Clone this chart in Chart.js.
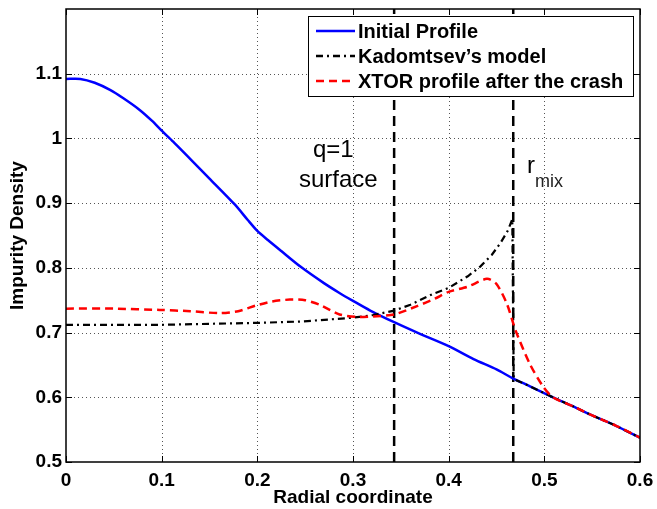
<!DOCTYPE html>
<html>
<head>
<meta charset="utf-8">
<script src="https://cdn.jsdelivr.net/npm/chart.js@4"></script>
<style>
  html, body { margin: 0; padding: 0; background: #fff; }
  #wrap { width: 657px; height: 509px; }
</style>
</head>
<body>
<div id="wrap"><canvas id="chart" width="657" height="509"></canvas></div>
<script>
// Profils de densité d'impuretés

const initialR = [0, 0.015, 0.03, 0.046, 0.06, 0.077, 0.09, 0.1, 0.112, 0.13, 0.15, 0.1764, 0.19, 0.2, 0.211, 0.225, 0.245, 0.27, 0.285, 0.3, 0.318, 0.343, 0.37, 0.4, 0.426, 0.45, 0.4675, 0.485, 0.509, 0.53, 0.55, 0.575, 0.6];
const initialN = [1.092, 1.092, 1.086, 1.075, 1.062, 1.044, 1.027, 1.012, 0.995, 0.968, 0.938, 0.898, 0.874, 0.857, 0.843, 0.826, 0.802, 0.776, 0.762, 0.749, 0.734, 0.716, 0.698, 0.679, 0.659, 0.643, 0.629, 0.617, 0.600, 0.586, 0.572, 0.556, 0.5375];

const kadomR = [0, 0.1, 0.2, 0.245, 0.3, 0.321, 0.343, 0.36, 0.384, 0.4, 0.42, 0.433, 0.445, 0.454, 0.462, 0.4665, 0.468, 0.485, 0.509, 0.53, 0.55, 0.575, 0.6];
const kadomN = [0.712, 0.712, 0.715, 0.717, 0.723, 0.727, 0.734, 0.743, 0.760, 0.769, 0.787, 0.802, 0.820, 0.838, 0.858, 0.875, 0.628, 0.617, 0.600, 0.586, 0.572, 0.556, 0.5375];

const xtorR = [0, 0.05, 0.098, 0.13, 0.161, 0.18, 0.199, 0.215, 0.234, 0.25, 0.265, 0.286, 0.305, 0.321, 0.343, 0.367, 0.385, 0.4, 0.42, 0.44, 0.45, 0.461, 0.47, 0.485, 0.499, 0.509, 0.53, 0.55, 0.575, 0.6];
const xtorN = [0.737, 0.737, 0.735, 0.733, 0.730, 0.733, 0.742, 0.748, 0.751, 0.750, 0.743, 0.728, 0.724, 0.725, 0.728, 0.741, 0.752, 0.763, 0.771, 0.783, 0.775, 0.744, 0.703, 0.651, 0.616, 0.600, 0.586, 0.572, 0.556, 0.5375];

const qSurface = 0.343;   // surface q=1
const rMix = 0.4675;      // rayon de mélange
const yMin = 0.5, yMax = 1.2;
const xTicks = [0, 0.1, 0.2, 0.3, 0.4, 0.5, 0.6];
const yTicks = [0.5, 0.6, 0.7, 0.8, 0.9, 1, 1.1];

const legendLabels = ["Initial Profile", "Kadomtsev\u2019s model", "XTOR profile after the crash"];

const FONT = "'Liberation Sans', Arial, Helvetica, sans-serif";

function toPoints(xs, ys) {
  return xs.map((x, i) => ({ x: x, y: ys[i] }));
}

function noPad(s) {
  s.paddingTop = 0; s.paddingBottom = 0; s.paddingLeft = 0; s.paddingRight = 0;
}

// grille pointillée (façon MATLAB)
const gridPlugin = {
  id: "dotgrid",
  beforeDatasetsDraw(chart) {
    const ctx = chart.ctx;
    const a = chart.chartArea;
    const xs = chart.scales.x, ys = chart.scales.y;
    ctx.save();
    ctx.strokeStyle = "#555";
    ctx.lineWidth = 1;
    ctx.setLineDash([1, 3]);
    ctx.beginPath();
    xTicks.slice(1, -1).forEach(v => {
      const px = Math.round(xs.getPixelForValue(v)) + 0.5;
      ctx.moveTo(px, a.bottom); ctx.lineTo(px, a.top);
    });
    yTicks.slice(1).forEach(v => {
      const py = Math.round(ys.getPixelForValue(v)) + 0.5;
      ctx.moveTo(a.left, py); ctx.lineTo(a.right, py);
    });
    ctx.stroke();
    ctx.restore();
  }
};

// repères (légende, textes, graduations intérieures, cadre)
const decorPlugin = {
  id: "decor",
  afterDatasetsDraw(chart) {
    const ctx = chart.ctx;
    const a = chart.chartArea;
    const xs = chart.scales.x, ys = chart.scales.y;
    ctx.save();

    // cadre complet
    ctx.strokeStyle = "#000";
    ctx.lineWidth = 1.5;
    ctx.setLineDash([]);
    ctx.strokeRect(a.left, a.top, a.right - a.left, a.bottom - a.top);

    // graduations vers l'intérieur
    ctx.lineWidth = 1;
    ctx.beginPath();
    xTicks.forEach(v => {
      const px = Math.round(xs.getPixelForValue(v)) + 0.5;
      ctx.moveTo(px, a.bottom); ctx.lineTo(px, a.bottom - 6);
      ctx.moveTo(px, a.top); ctx.lineTo(px, a.top + 6);
    });
    yTicks.forEach(v => {
      const py = Math.round(ys.getPixelForValue(v)) + 0.5;
      ctx.moveTo(a.left, py); ctx.lineTo(a.left + 6, py);
      ctx.moveTo(a.right, py); ctx.lineTo(a.right - 6, py);
    });
    ctx.stroke();

    // annotations
    ctx.fillStyle = "#000";
    ctx.font = "24px " + FONT;
    ctx.textAlign = "left";
    ctx.textBaseline = "alphabetic";
    ctx.fillText("q=1", 313, 157);
    ctx.fillText("surface", 299, 187);
    ctx.fillText("r", 527, 173);
    ctx.font = "18px " + FONT;
    ctx.fillStyle = "#222";
    ctx.fillText("mix", 535, 187);

    // légende
    const box = { l: 308, t: 16, r: 633, b: 96 };
    ctx.fillStyle = "#fff";
    ctx.fillRect(box.l, box.t, box.r - box.l, box.b - box.t);
    ctx.strokeStyle = "#000";
    ctx.lineWidth = 1;
    ctx.strokeRect(box.l + 0.5, box.t + 0.5, box.r - box.l, box.b - box.t);
    const rows = [31, 56, 81];
    const styles = [
      { color: "#0000ff", dash: [] },
      { color: "#000", dash: [7, 4, 2, 4] },
      { color: "#ff0000", dash: [8, 5] }
    ];
    ctx.font = "bold 20px " + FONT;
    ctx.textBaseline = "middle";
    rows.forEach((y, i) => {
      ctx.strokeStyle = styles[i].color;
      ctx.lineWidth = 2.5;
      ctx.setLineDash(styles[i].dash);
      ctx.beginPath();
      ctx.moveTo(316, y); ctx.lineTo(355, y);
      ctx.stroke();
      ctx.setLineDash([]);
      ctx.fillStyle = "#000";
      ctx.fillText(legendLabels[i], 358, y + 1);
    });

    ctx.restore();
  }
};

const ctx = document.getElementById("chart").getContext("2d");
const chart = new Chart(ctx, {
  type: "scatter",
  data: {
    datasets: [
      {
        label: legendLabels[2],
        data: toPoints(xtorR, xtorN),
        showLine: true,
        borderColor: "#ff0000",
        borderWidth: 2.5,
        borderDash: [8, 5],
        pointRadius: 0,
        tension: 0.25,
      },
      {
        label: legendLabels[1],
        data: toPoints(kadomR, kadomN),
        showLine: true,
        borderColor: "#000",
        borderWidth: 2.2,
        borderDash: [7, 4, 2, 4],
        pointRadius: 0,
        tension: 0,
      },
      {
        label: legendLabels[0],
        data: toPoints(initialR, initialN),
        showLine: true,
        borderColor: "#0000ff",
        borderWidth: 2.5,
        pointRadius: 0,
        tension: 0.25,
      },
      {
        label: "q=1",
        data: [{ x: qSurface, y: yMin }, { x: qSurface, y: yMax }],
        showLine: true,
        borderColor: "#000",
        borderWidth: 2.5,
        borderDash: [10, 6],
        pointRadius: 0,
      },
      {
        label: "rmix",
        data: [{ x: rMix, y: yMin }, { x: rMix, y: yMax }],
        showLine: true,
        borderColor: "#000",
        borderWidth: 2.5,
        borderDash: [10, 6],
        pointRadius: 0,
      },
    ],
  },
  options: {
    responsive: false,
    animation: false,
    layout: { padding: { top: 9, right: 17, left: 0, bottom: 0 } },
    plugins: {
      legend: { display: false },
      tooltip: { enabled: false },
    },
    scales: {
      x: {
        type: "linear",
        min: 0,
        max: 0.6,
        afterFit: (s) => { s.height = 47; noPad(s); },
        afterBuildTicks: (s) => { s.ticks = xTicks.map(v => ({ value: v })); },
        ticks: {
          color: "#000",
          font: { family: FONT, size: 19, weight: "bold" },
          padding: 7,
          maxRotation: 0,
          callback: (v) => String(Math.round(v * 10) / 10),
        },
        grid: { display: false, drawTicks: false },
        border: { display: false },
        title: {
          display: true,
          text: "Radial coordinate",
          color: "#000",
          font: { family: FONT, size: 19, weight: "bold" },
          padding: { top: 0, bottom: 0 },
        },
      },
      y: {
        type: "linear",
        min: yMin,
        max: yMax,
        afterFit: (s) => { s.width = 66; noPad(s); },
        afterBuildTicks: (s) => { s.ticks = yTicks.map(v => ({ value: v })); },
        ticks: {
          color: "#000",
          font: { family: FONT, size: 19, weight: "bold" },
          padding: 4,
          callback: (v) => String(Math.round(v * 10) / 10),
        },
        grid: { display: false, drawTicks: false },
        border: { display: false },
        title: {
          display: true,
          text: "Impurity Density",
          color: "#000",
          font: { family: FONT, size: 19, weight: "bold" },
          padding: { top: 6, bottom: 0 },
        },
      },
    },
  },
  plugins: [gridPlugin, decorPlugin],
});
</script>
</body>
</html>
